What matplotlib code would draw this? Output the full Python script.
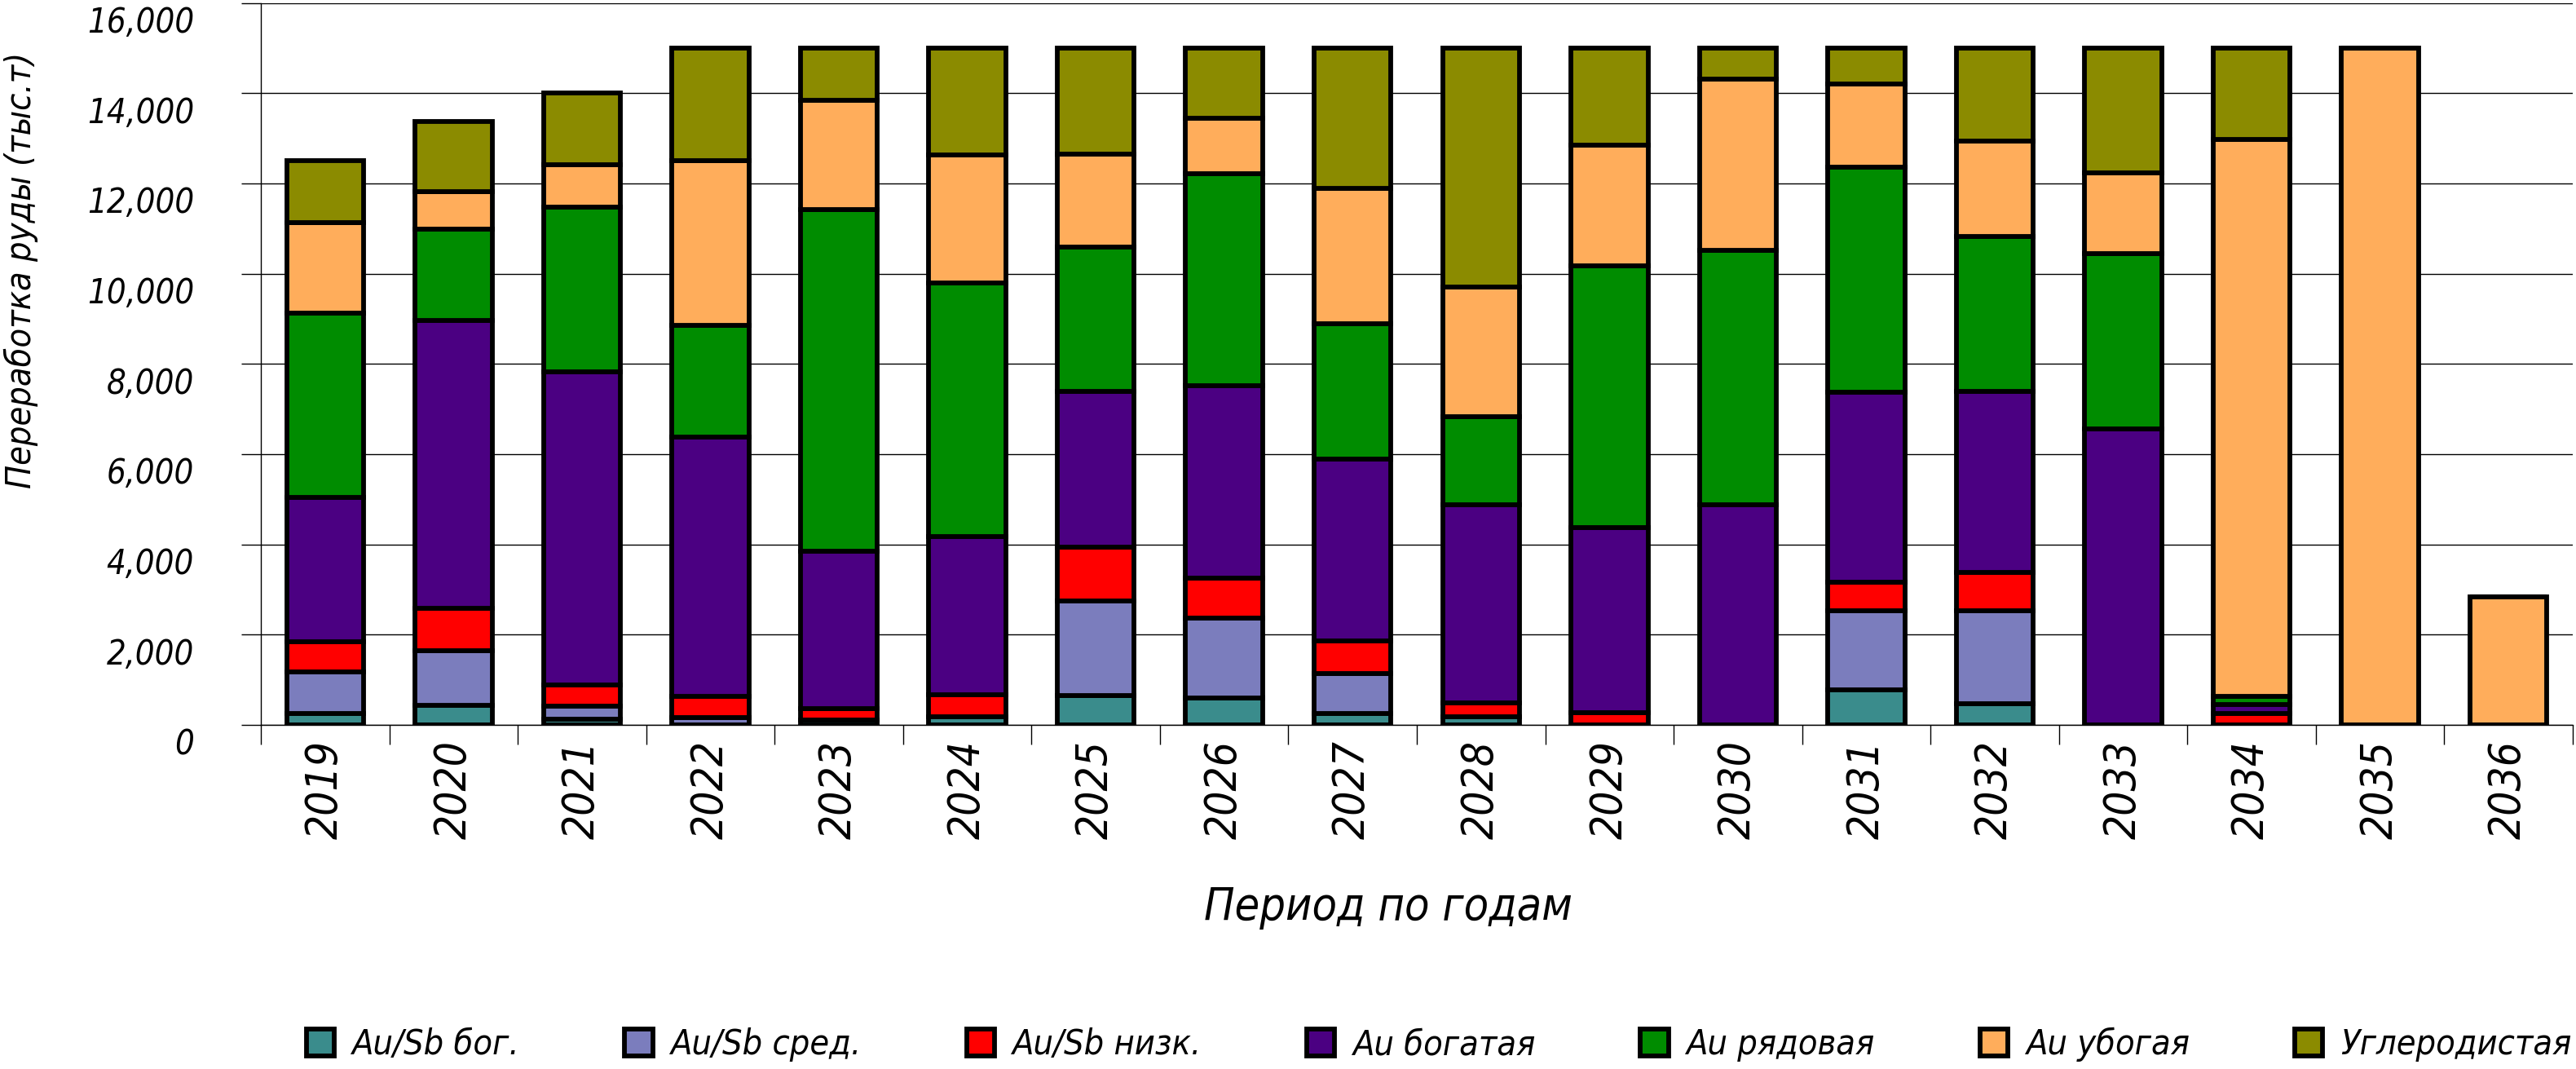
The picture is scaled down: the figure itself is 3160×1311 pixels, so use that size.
import numpy as np
import matplotlib
matplotlib.use("Agg")
import matplotlib.pyplot as plt
import matplotlib.transforms as mtransforms
from matplotlib.ticker import FuncFormatter

plt.rcParams['font.family'] = ['DejaVu Sans']
plt.rcParams['font.stretch'] = 'condensed'
plt.rcParams['font.style'] = 'italic'

years = [str(y) for y in range(2019, 2037)]

au_sb_bog = [250, 440, 120, 0, 110, 180, 650, 600, 250, 175, 0, 0, 775, 465, 0, 0, 0, 0]
au_sb_sred = [920, 1200, 295, 160, 0, 0, 2090, 1775, 890, 0, 0, 0, 1757, 2067, 0, 0, 0, 0]
au_sb_nizk = [680, 950, 475, 480, 250, 480, 1195, 875, 730, 320, 265, 0, 633, 844, 0, 250, 0, 0]
au_bogataya = [3190, 6380, 6940, 5740, 3490, 3505, 3450, 4260, 4020, 4380, 4110, 4885, 4200, 4010, 6560, 210, 0, 0]
au_ryadovaya = [4080, 2025, 3650, 2480, 7575, 5625, 3200, 4705, 3005, 1950, 5805, 5635, 5000, 3430, 3885, 180, 0, 0]
au_ubogaya = [2005, 825, 940, 3640, 2415, 2840, 2065, 1235, 2995, 2880, 2670, 3795, 1845, 2130, 1790, 12335, 15000, 2830]
uglerod = [1375, 1560, 1590, 2500, 1160, 2370, 2350, 1550, 3110, 5295, 2150, 685, 790, 2055, 2765, 2025, 0, 0]

series = [au_sb_bog, au_sb_sred, au_sb_nizk, au_bogataya, au_ryadovaya, au_ubogaya, uglerod]
names = ['Au/Sb бог.', 'Au/Sb сред.', 'Au/Sb низк.', 'Au богатая', 'Au рядовая', 'Au убогая', 'Углеродистая']
colors = ['#3a8c8c', '#7b7dbd', '#ff0000', '#4b0082', '#008c00', '#ffad5b', '#8b8b00']

fig = plt.figure(figsize=(31.6, 13.11), dpi=100)
ax = fig.add_axes([0.1013, 0.3219, 0.8974, 0.6754])

x = np.arange(len(years))
bottom = np.zeros(len(years))
bars = []
for vals, name, col in zip(series, names, colors):
    vals = np.array(vals, dtype=float)
    b = ax.bar(x, vals, width=0.6, bottom=bottom, color=col, edgecolor='black',
               linewidth=4.2, label=name, zorder=3)
    bars.append(b)
    bottom += vals

ax.set_xlim(-0.5, len(years) - 0.5)
ax.set_ylim(0, 16000)
ax.set_yticks(np.arange(0, 16001, 2000))
ax.yaxis.set_major_formatter(FuncFormatter(lambda v, p: f"{int(v):,}"))
ax.grid(axis='y', color='black', linewidth=1.0, zorder=0)

ax.set_xticks(np.arange(len(years) + 1) - 0.5)
ax.set_xticklabels([])
ax.set_xticks(x, minor=True)
ax.set_xticklabels(years, minor=True, rotation=90, fontsize=38)
ax.tick_params(axis='x', which='major', length=17, width=1.0, direction='out')
ax.tick_params(axis='x', which='minor', length=0, pad=14)
ax.tick_params(axis='y', length=17, width=1.0, direction='out', labelsize=30, pad=42)

offset = mtransforms.ScaledTranslation(0, -20 / 100, fig.dpi_scale_trans)
for lab in ax.get_yticklabels():
    lab.set_transform(lab.get_transform() + offset)

for side in ['top', 'right']:
    ax.spines[side].set_visible(False)
ax.spines['left'].set_linewidth(1.0)
ax.spines['bottom'].set_linewidth(1.0)

fig.text(26 / 3160, 1 - 331 / 1311, 'Переработка руды (тыс.т)', rotation=90,
         ha='center', va='center', fontsize=31)
fig.text(1703 / 3160, 1 - 1114 / 1311, 'Период по годам', ha='center', va='center', fontsize=40)

fig.legend(handles=bars, labels=names, loc='center', bbox_to_anchor=(0.5585, 1 - 1281 / 1311),
           ncol=7, frameon=False, fontsize=31, handlelength=0.8, handleheight=0.8,
           handletextpad=0.5, columnspacing=3.0)

fig.savefig('out.png', dpi=100)
